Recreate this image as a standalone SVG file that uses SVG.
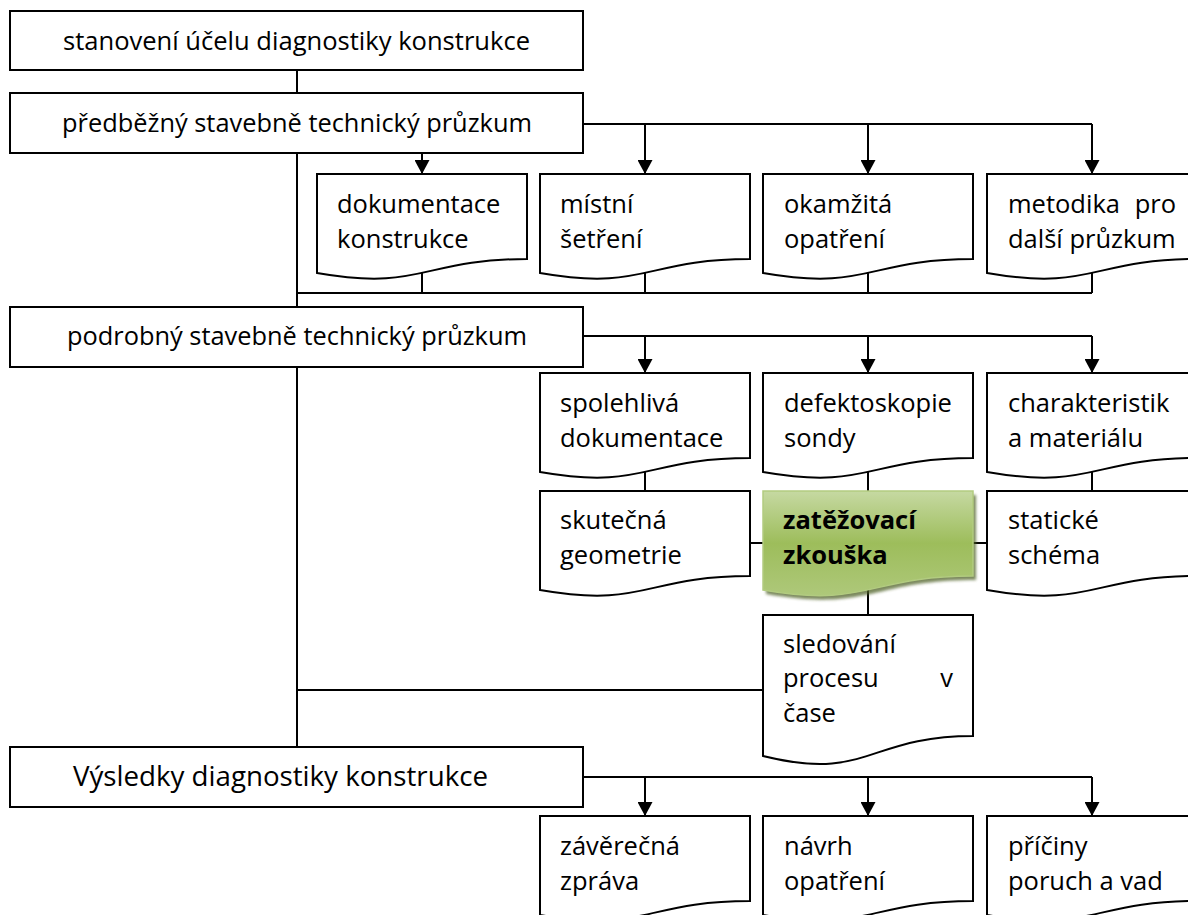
<svg xmlns="http://www.w3.org/2000/svg" width="1188" height="915" viewBox="0 0 1188 915">
<style>
.box{fill:#fff;stroke:#000;stroke-width:2}
.doc{fill:#fff;stroke:#000;stroke-width:2;stroke-linejoin:miter}
.t{font-family:"Open Sans","Liberation Sans",sans-serif;font-size:25.5px;fill:#000}
.b{font-weight:bold}
.e{text-anchor:end}
.c{fill:none;stroke:#000;stroke-width:2}
</style>
<defs>
<marker id="ah" markerUnits="userSpaceOnUse" markerWidth="14" markerHeight="15" viewBox="0 0 14 15" refX="14" refY="7.5" orient="auto">
<path d="M0,0 L14,7.5 L0,15 Z" fill="#000"/>
</marker>
<linearGradient id="gg" x1="0" y1="0" x2="0" y2="1">
<stop offset="0" stop-color="#c6d9a2"/>
<stop offset="0.5" stop-color="#9dbd5b"/>
<stop offset="1" stop-color="#aec87a"/>
</linearGradient>
<filter id="sh" x="-10%" y="-10%" width="130%" height="130%">
<feGaussianBlur stdDeviation="1.5"/>
</filter>
</defs>
<rect width="1188" height="915" fill="#fff"/>

<g id="connectors">
<path class="c" d="M297,70 V93"/>
<path class="c" d="M297,153 V307"/>
<path class="c" d="M297,367 V747"/>
<path class="c" d="M583,124 H1092"/>
<path class="c" d="M422,153 V174" marker-end="url(#ah)"/>
<path class="c" d="M645,124 V174" marker-end="url(#ah)"/>
<path class="c" d="M868,124 V174" marker-end="url(#ah)"/>
<path class="c" d="M1092,124 V174" marker-end="url(#ah)"/>
<path class="c" d="M297,293 H1092"/>
<path class="c" d="M422,273 V293 M645,273 V293 M868,273 V293 M1092,273 V293"/>
<path class="c" d="M583,336 H1092"/>
<path class="c" d="M645,336 V373" marker-end="url(#ah)"/>
<path class="c" d="M868,336 V373" marker-end="url(#ah)"/>
<path class="c" d="M1092,336 V373" marker-end="url(#ah)"/>
<path class="c" d="M645,472 V491 M868,472 V491 M1092,472 V491"/>
<path class="c" d="M750,543 H763 M973,543 H987"/>
<path class="c" d="M868,590 V615"/>
<path class="c" d="M297,690 H763"/>
<path class="c" d="M583,777 H1092"/>
<path class="c" d="M645,777 V816" marker-end="url(#ah)"/>
<path class="c" d="M868,777 V816" marker-end="url(#ah)"/>
<path class="c" d="M1092,777 V816" marker-end="url(#ah)"/>
</g>

<g id="n-ucel">
<rect class="box" x="10" y="11" width="573" height="59"/>
<text class="t" x="63" y="50" textLength="467" lengthAdjust="spacingAndGlyphs">stanovení účelu diagnostiky konstrukce</text>
</g>
<g id="n-predbezny">
<rect class="box" x="10" y="93" width="573" height="60"/>
<text class="t" x="62" y="132" textLength="470" lengthAdjust="spacingAndGlyphs">předběžný stavebně technický průzkum</text>
</g>

<g id="n-dokumentace">
<path class="doc" d="M317,174 H527 V259 C422,259 422,291.4 317,273 Z"/>
<text class="t" x="337" y="213">dokumentace</text>
<text class="t" x="337" y="248">konstrukce</text>
</g>
<g id="n-mistni">
<path class="doc" d="M540,174 H750 V259 C645,259 645,291.4 540,273 Z"/>
<text class="t" x="560" y="213">místní</text>
<text class="t" x="560" y="248">šetření</text>
</g>
<g id="n-okamzita">
<path class="doc" d="M763,174 H973 V259 C868,259 868,291.4 763,273 Z"/>
<text class="t" x="784" y="213">okamžitá</text>
<text class="t" x="784" y="248">opatření</text>
</g>
<g id="n-metodika">
<path class="doc" d="M987,174 H1197 V259 C1092,259 1092,291.4 987,273 Z"/>
<text class="t" x="1008" y="213">metodika</text>
<text class="t e" x="1176" y="213">pro</text>
<text class="t" x="1008" y="248">další průzkum</text>
</g>

<g id="n-podrobny">
<rect class="box" x="10" y="307" width="573" height="60"/>
<text class="t" x="67" y="345" textLength="460" lengthAdjust="spacingAndGlyphs">podrobný stavebně technický průzkum</text>
</g>

<g id="n-spolehliva">
<path class="doc" d="M540,373 H750 V458 C645,458 645,490.4 540,472 Z"/>
<text class="t" x="560" y="412">spolehlivá</text>
<text class="t" x="560" y="447">dokumentace</text>
</g>
<g id="n-defektoskopie">
<path class="doc" d="M763,373 H973 V458 C868,458 868,490.4 763,472 Z"/>
<text class="t" x="784" y="412">defektoskopie</text>
<text class="t" x="784" y="447">sondy</text>
</g>
<g id="n-charakteristik">
<path class="doc" d="M987,373 H1197 V458 C1092,458 1092,490.4 987,472 Z"/>
<text class="t" x="1008" y="412">charakteristik</text>
<text class="t" x="1008" y="447">a materiálu</text>
</g>

<g id="n-skutecna">
<path class="doc" d="M540,491 H750 V576 C645,576 645,608.4 540,590 Z"/>
<text class="t" x="560" y="529">skutečná</text>
<text class="t" x="560" y="564">geometrie</text>
</g>
<g id="n-zatezovaci">
<path d="M766,495 H976 V580 C871,580 871,612.4 766,594 Z" fill="#4f6228" opacity="0.75" filter="url(#sh)"/>
<path d="M763,491 H973 V576 C868,576 868,608.4 763,590 Z" fill="url(#gg)" stroke="#b2cb80" stroke-width="1.5"/>
<text class="t b" x="783" y="529">zatěžovací</text>
<text class="t b" x="783" y="564">zkouška</text>
</g>
<g id="n-staticke">
<path class="doc" d="M987,491 H1197 V576 C1092,576 1092,608.4 987,590 Z"/>
<text class="t" x="1008" y="529">statické</text>
<text class="t" x="1008" y="564">schéma</text>
</g>

<g id="n-sledovani">
<path class="doc" d="M763,615 H973 V736 C868,736 868,782 763,756 Z"/>
<text class="t" x="783" y="653">sledování</text>
<text class="t" x="783" y="687">procesu</text>
<text class="t e" x="953" y="687">v</text>
<text class="t" x="783" y="722">čase</text>
</g>

<g id="n-vysledky">
<rect class="box" x="10" y="747" width="573" height="60"/>
<text class="t" x="73" y="786" style="font-size:27px" textLength="415" lengthAdjust="spacingAndGlyphs">Výsledky diagnostiky konstrukce</text>
</g>

<g id="n-zaverecna">
<path class="doc" d="M540,816 H750 V901 C645,901 645,933.4 540,915 Z"/>
<text class="t" x="560" y="855">závěrečná</text>
<text class="t" x="560" y="890">zpráva</text>
</g>
<g id="n-navrh">
<path class="doc" d="M763,816 H973 V901 C868,901 868,933.4 763,915 Z"/>
<text class="t" x="784" y="855">návrh</text>
<text class="t" x="784" y="890">opatření</text>
</g>
<g id="n-priciny">
<path class="doc" d="M987,816 H1197 V901 C1092,901 1092,933.4 987,915 Z"/>
<text class="t" x="1008" y="855">příčiny</text>
<text class="t" x="1008" y="890">poruch a vad</text>
</g>
</svg>
